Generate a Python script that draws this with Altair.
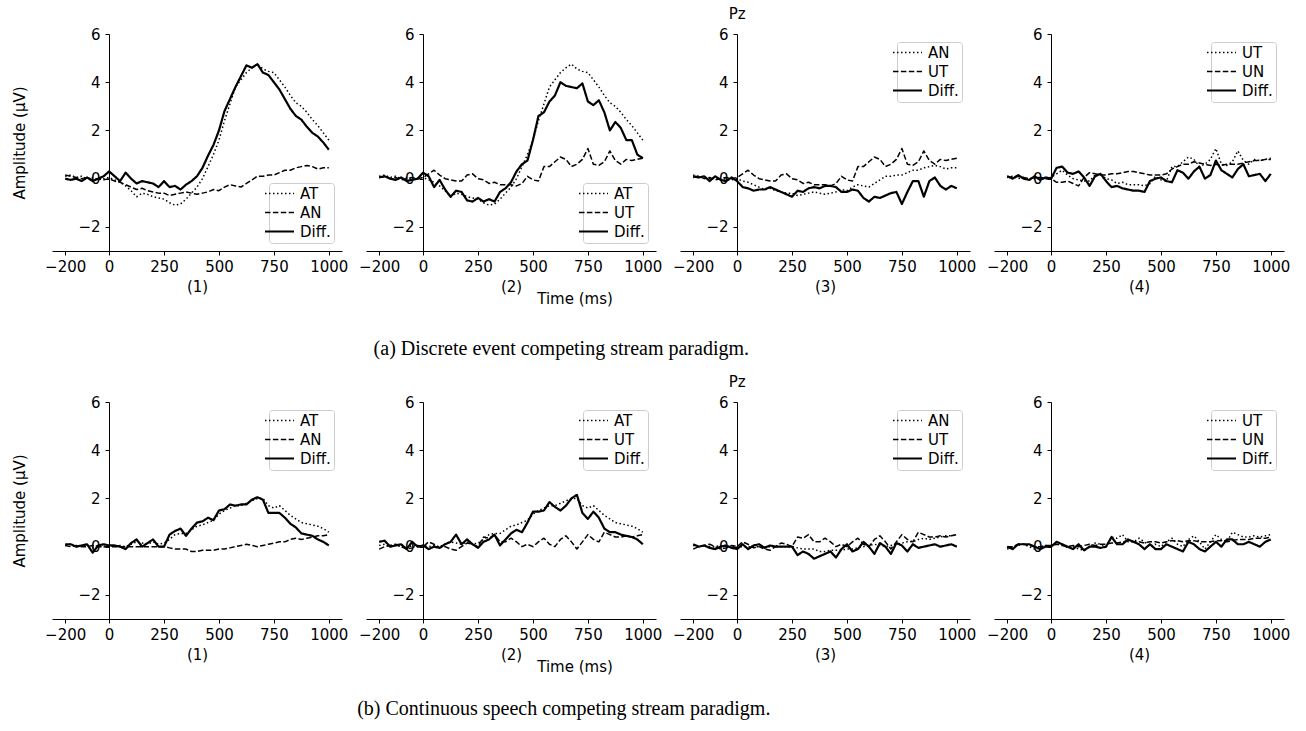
import altair as alt
import pandas as pd

SANS = "DejaVu Sans"
SERIF = "Liberation Serif"

# Sample times (ms), every 25 ms from -200 to 1000
TIMES = list(range(-200, 1001, 25))

# ---- (a) discrete event paradigm, Pz amplitudes (uV) ----
AT_A = [0.10, 0.15, 0.05, 0.10, 0.00, 0.05, -0.05, 0.00, 0.05,
        -0.05, -0.15, -0.30, -0.50, -0.75, -0.60, -0.65, -0.75,
        -0.80, -0.85, -1.00, -1.10, -1.05, -0.85, -0.60, -0.35,
        0.00, 0.50, 1.00, 1.60, 2.40, 3.10, 3.80, 4.10,
        4.40, 4.60, 4.75, 4.55, 4.45, 4.40, 4.10, 3.80,
        3.45, 3.15, 3.00, 2.75, 2.45, 2.20, 1.90, 1.60]
AN_A = [0.15, 0.10, 0.05, 0.00, 0.05, -0.05, 0.00, -0.05, 0.00,
        -0.10, -0.15, -0.25, -0.35, -0.45, -0.40, -0.50, -0.55,
        -0.60, -0.60, -0.70, -0.65, -0.60, -0.55, -0.60, -0.65,
        -0.60, -0.55, -0.45, -0.50, -0.35, -0.25, -0.30, -0.35,
        -0.20, -0.05, 0.10, 0.10, 0.15, 0.15, 0.25, 0.35,
        0.35, 0.45, 0.50, 0.55, 0.50, 0.40, 0.45, 0.45]
UT_A = [0.05, 0.10, 0.00, 0.05, -0.05, 0.00, 0.05, 0.00, 0.05,
        0.20, 0.35, 0.15, 0.00, -0.05, -0.10, -0.10, 0.15,
        0.20, 0.00, -0.05, -0.20, -0.15, -0.25, -0.25, -0.25,
        -0.30, -0.20, 0.10, -0.05, -0.10, 0.50, 0.50, 0.70,
        0.90, 0.80, 0.50, 0.60, 0.80, 1.25, 0.60, 0.55,
        0.70, 1.15, 0.75, 0.60, 0.80, 0.75, 0.80, 0.85]
UN_A = [0.10, 0.05, 0.10, 0.05, 0.00, 0.05, 0.05, 0.00, 0.00,
        -0.15, -0.15, -0.10, -0.20, -0.30, 0.05, 0.25, 0.20,
        0.15, 0.15, 0.20, 0.20, 0.25, 0.30, 0.30, 0.25,
        0.20, 0.15, 0.15, 0.15, 0.20, 0.40, 0.50, 0.60,
        0.60, 0.70, 0.65, 0.60, 0.55, 0.60, 0.55, 0.60,
        0.60, 0.60, 0.65, 0.70, 0.75, 0.75, 0.80, 0.80]
DIFF_A1 = [0.00, -0.05, 0.00, -0.10, 0.05, -0.10, 0.00, 0.10, 0.30,
           0.10, -0.10, 0.25, 0.00, -0.20, -0.10, -0.15, -0.20,
           -0.35, -0.10, -0.35, -0.30, -0.45, -0.25, -0.10, 0.10,
           0.45, 0.95, 1.40, 2.00, 2.80, 3.30, 3.80, 4.25,
           4.70, 4.60, 4.75, 4.40, 4.30, 4.00, 3.70, 3.30,
           2.90, 2.60, 2.45, 2.15, 1.90, 1.75, 1.50, 1.20]
DIFF_A2 = [0.05, 0.10, 0.00, -0.05, 0.05, -0.10, -0.05, 0.00, 0.25,
           0.10, -0.35, -0.05, -0.45, -0.75, -0.50, -0.55, -0.90,
           -0.95, -0.80, -0.95, -0.85, -0.95, -0.55, -0.40, -0.15,
           0.30, 0.60, 0.75, 1.60, 2.60, 2.75, 3.20, 3.45,
           4.00, 3.85, 3.80, 3.75, 3.95, 3.20, 3.05, 3.25,
           2.75, 2.00, 2.35, 2.10, 1.60, 1.60, 1.00, 0.85]
DIFF_A3 = [0.10, 0.05, 0.10, -0.10, 0.10, -0.05, -0.10, 0.05, -0.10,
           -0.35, -0.40, -0.50, -0.45, -0.45, -0.35, -0.45, -0.55,
           -0.65, -0.75, -0.50, -0.55, -0.40, -0.35, -0.40, -0.30,
           -0.30, -0.35, -0.55, -0.55, -0.45, -0.50, -0.80, -0.95,
           -0.75, -0.80, -0.70, -0.60, -0.55, -1.05, -0.55, -0.10,
           -0.10, -0.75, -0.10, 0.05, -0.30, -0.45, -0.30, -0.40]
DIFF_A4 = [0.10, 0.00, 0.15, 0.00, -0.05, 0.10, -0.05, 0.05, 0.00,
           0.45, 0.50, 0.25, 0.20, 0.30, 0.05, -0.30, 0.10,
           0.20, -0.10, -0.35, -0.30, -0.40, -0.45, -0.50, -0.50,
           -0.55, -0.10, 0.00, 0.05, -0.10, -0.15, 0.35, 0.25,
           0.00, 0.30, 0.50, 0.00, 0.15, 0.75, 0.35, 0.20,
           0.05, 0.40, 0.60, 0.10, 0.15, 0.20, -0.10, 0.20]

# ---- (b) continuous speech paradigm, Pz amplitudes (uV) ----
AT_B = [0.05, 0.10, 0.00, 0.05, 0.00, -0.05, 0.05, 0.00, 0.05,
        0.00, 0.05, 0.00, 0.10, 0.20, 0.15, 0.10, 0.20,
        0.10, 0.15, 0.30, 0.50, 0.55, 0.55, 0.70, 0.85,
        0.90, 1.00, 1.10, 1.35, 1.50, 1.60, 1.70, 1.70,
        1.80, 1.90, 2.00, 2.00, 1.70, 1.60, 1.70, 1.50,
        1.30, 1.15, 1.00, 0.95, 0.90, 0.85, 0.75, 0.60]
AN_B = [0.05, 0.00, 0.05, 0.00, 0.00, 0.05, 0.00, 0.00, 0.00,
        0.00, 0.00, 0.00, 0.00, 0.00, 0.00, 0.00, 0.00,
        0.00, 0.00, -0.05, -0.10, -0.10, -0.10, -0.20, -0.20,
        -0.15, -0.15, -0.15, -0.10, -0.10, -0.05, 0.00, 0.05,
        0.10, 0.05, 0.00, 0.05, 0.10, 0.15, 0.20, 0.20,
        0.30, 0.35, 0.30, 0.35, 0.40, 0.45, 0.45, 0.50]
UT_B = [-0.10, 0.00, 0.05, 0.10, 0.00, -0.10, -0.05, 0.05, 0.00,
        0.20, 0.10, -0.05, 0.00, -0.10, -0.15, 0.00, 0.15,
        0.10, 0.00, 0.40, 0.35, 0.50, 0.20, 0.20, 0.35,
        0.20, 0.00, 0.10, 0.00, 0.20, 0.35, 0.10, 0.00,
        0.30, 0.45, 0.20, -0.10, 0.20, 0.50, 0.30, 0.20,
        0.60, 0.50, 0.40, 0.40, 0.45, 0.40, 0.45, 0.50]
UN_B = [0.00, 0.00, 0.10, 0.10, 0.05, 0.00, 0.00, 0.05, 0.05,
        0.10, 0.05, 0.00, 0.05, 0.00, 0.05, 0.10, 0.05,
        0.10, 0.10, 0.15, 0.15, 0.20, 0.25, 0.20, 0.20,
        0.15, 0.20, 0.20, 0.15, 0.20, 0.25, 0.25, 0.20,
        0.25, 0.25, 0.20, 0.20, 0.20, 0.25, 0.25, 0.20,
        0.25, 0.30, 0.30, 0.30, 0.35, 0.35, 0.35, 0.40]
DIFF_B1 = [0.10, 0.10, 0.00, 0.05, 0.10, -0.25, 0.05, 0.10, 0.05,
           0.05, 0.00, -0.10, 0.15, 0.30, 0.00, 0.15, 0.30,
           0.00, 0.00, 0.50, 0.65, 0.75, 0.45, 0.75, 1.00,
           1.05, 1.20, 1.10, 1.50, 1.55, 1.75, 1.70, 1.75,
           1.75, 1.95, 2.05, 1.95, 1.40, 1.40, 1.40, 1.20,
           0.95, 0.80, 0.55, 0.50, 0.45, 0.30, 0.20, 0.05]
DIFF_B2 = [0.20, 0.25, 0.00, 0.05, 0.10, -0.10, 0.20, 0.00, 0.05,
           -0.10, 0.00, -0.05, 0.10, 0.20, 0.50, 0.10, 0.30,
           0.10, -0.05, 0.20, 0.30, 0.50, 0.05, 0.30, 0.55,
           0.70, 0.60, 1.00, 1.45, 1.45, 1.50, 1.85, 1.65,
           1.50, 1.70, 2.00, 2.15, 1.40, 1.15, 1.45, 1.20,
           0.75, 0.60, 0.60, 0.50, 0.45, 0.40, 0.30, 0.10]
DIFF_B3 = [0.10, 0.00, 0.05, -0.05, -0.10, 0.00, 0.05, -0.05, -0.10,
           0.10, -0.10, 0.05, 0.10, -0.05, 0.05, 0.00, 0.00,
           0.00, 0.00, -0.35, -0.20, -0.30, -0.50, -0.40, -0.30,
           -0.20, -0.45, -0.10, 0.10, -0.20, -0.10, 0.20, 0.00,
           -0.30, 0.15, 0.00, -0.30, 0.15, 0.05, -0.20, 0.10,
           -0.05, 0.00, 0.05, 0.10, 0.00, 0.05, 0.10, 0.00]
DIFF_B4 = [0.00, -0.10, 0.10, 0.10, 0.10, 0.00, -0.10, 0.00, 0.00,
           0.20, 0.10, 0.00, -0.10, 0.10, -0.15, 0.00, 0.00,
           -0.05, 0.00, 0.40, 0.10, 0.10, 0.30, 0.20, 0.10,
           -0.10, 0.10, -0.10, -0.10, 0.10, 0.00, -0.10, -0.20,
           0.20, 0.10, -0.10, -0.20, 0.00, 0.20, 0.00, 0.30,
           0.30, 0.10, 0.10, 0.20, 0.10, 0.00, 0.20, 0.30]

# (sub-label, first series, second series, difference wave, legend corner)
ROW_A = [
    ("(1)", ("AT", AT_A), ("AN", AN_A), DIFF_A1, "bottom-right"),
    ("(2)", ("AT", AT_A), ("UT", UT_A), DIFF_A2, "bottom-right"),
    ("(3)", ("AN", AN_A), ("UT", UT_A), DIFF_A3, "top-right"),
    ("(4)", ("UT", UT_A), ("UN", UN_A), DIFF_A4, "top-right"),
]
ROW_B = [
    ("(1)", ("AT", AT_B), ("AN", AN_B), DIFF_B1, "top-right"),
    ("(2)", ("AT", AT_B), ("UT", UT_B), DIFF_B2, "top-right"),
    ("(3)", ("AN", AN_B), ("UT", UT_B), DIFF_B3, "top-right"),
    ("(4)", ("UT", UT_B), ("UN", UN_B), DIFF_B4, "top-right"),
]
CAPTIONS = ["(a) Discrete event competing stream paradigm.",
            "(b) Continuous speech competing stream paradigm."]

X_TICKS = [-200, 0, 250, 500, 750, 1000]
Y_TICKS = [-2, 0, 2, 4, 6]
DASHES = [[1.5, 2.5], [5.5, 2.4], [1, 0]]

W, H = 290, 217
FS = 15


def panel(spec, first_col):
    sub, (n1, s1), (n2, s2), diff, corner = spec
    n = len(TIMES)
    df = pd.DataFrame({
        "time": TIMES * 3,
        "amp": s1 + s2 + diff,
        "series": [n1] * n + [n2] * n + ["Diff."] * n,
    })
    domain = [n1, n2, "Diff."]

    x_axis = alt.Axis(values=X_TICKS, format="d", title=sub, titlePadding=5)
    if first_col:
        y_axis = alt.Axis(values=Y_TICKS, format="d", offset=-57,
                          title="Amplitude (μV)", titleX=-90, titleY=H / 2,
                          titleAngle=270, titleBaseline="middle", titleAlign="center")
    else:
        y_axis = alt.Axis(values=Y_TICKS, format="d", offset=-57, title=None)

    legend = alt.Legend(
        title=None, orient=corner, offset=8, padding=3,
        strokeColor="#cccccc", fillColor="rgba(255,255,255,0.8)", cornerRadius=3,
        symbolType="stroke", symbolSize=841, symbolOffset=0,
        symbolStrokeColor="black",
        symbolStrokeWidth=alt.ExprRef(expr="datum.value === 'Diff.' ? 2.2 : 1.5"),
        labelFont=SANS, labelFontSize=FS, labelColor="black", labelOffset=13,
        rowPadding=3,
    )

    return alt.Chart(df).mark_line(color="black", strokeJoin="round").encode(
        x=alt.X("time:Q", scale=alt.Scale(domain=[-260, 1060], nice=False, zero=False), axis=x_axis),
        y=alt.Y("amp:Q", scale=alt.Scale(domain=[-3, 6], nice=False, zero=False), axis=y_axis),
        strokeDash=alt.StrokeDash("series:N", scale=alt.Scale(domain=domain, range=DASHES),
                                  legend=legend),
        strokeWidth=alt.when(alt.datum.series == "Diff.").then(alt.value(2.2)).otherwise(alt.value(1.5)),
    )


def text_layer(txt, x, y, font=SANS, size=FS):
    return alt.Chart(pd.DataFrame({"txt": [txt]})).mark_text(
        font=font, fontSize=size, color="black", align="center", baseline="middle"
    ).encode(x=x, y=alt.value(y), text="txt:N")


rows = []
for r, row in enumerate([ROW_A, ROW_B]):
    charts = []
    for c, spec in enumerate(row):
        layers = [panel(spec, c == 0)]
        if c == 2:
            layers.append(text_layer("Pz", alt.datum(0), -20))
        if c == 1:
            layers.append(text_layer("Time (ms)", alt.value(209), 265 if r == 0 else 264.5))
            layers.append(text_layer(CAPTIONS[r], alt.value(195.3 if r == 0 else 197.8),
                                     314.6 if r == 0 else 307.2, font=SERIF, size=20))
        charts.append(alt.layer(*layers).properties(width=W, height=H))
    row_chart = alt.hconcat(*charts, spacing=24, bounds="flush").resolve_scale(
        strokeDash="independent").resolve_legend(strokeDash="independent")
    rows.append(row_chart)

# nested rows report no height of their own under flush bounds, so the row
# pitch (plot height + gap) goes into the spacing
chart = alt.vconcat(*rows, spacing=H + 151, bounds="flush").resolve_scale(
    strokeDash="independent"
).resolve_legend(
    strokeDash="independent"
).properties(
    autosize=alt.AutoSizeParams(type="none"),
    padding={"left": 52, "top": 34, "right": 1254, "bottom": 697},
).configure_view(
    stroke=None
).configure_axis(
    grid=False,
    domainColor="black", domainWidth=1,
    tickColor="black", tickWidth=1, tickSize=4,
    labelFont=SANS, labelFontSize=FS, labelColor="black", labelPadding=5,
    labelFlush=False, labelOverlap=False,
    titleFont=SANS, titleFontSize=FS, titleFontWeight="normal", titleColor="black",
).configure_axisX(
    labelPadding=4.3,
)

chart.save("out.html", embed_options={"renderer": "svg", "actions": False})
